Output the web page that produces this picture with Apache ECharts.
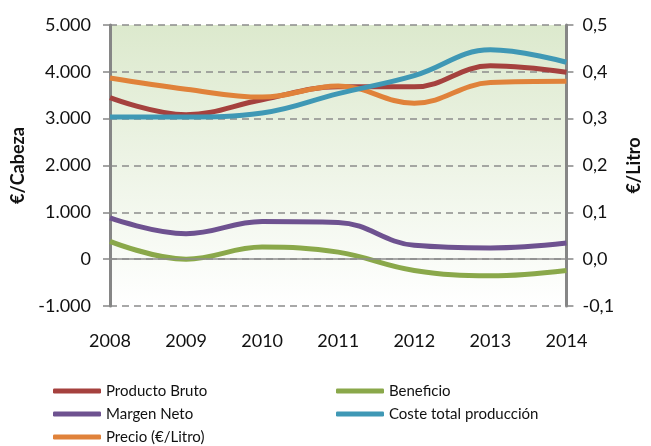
<!DOCTYPE html>
<html><head><meta charset="utf-8">
<script src="https://cdn.jsdelivr.net/npm/echarts@6/dist/echarts.min.js"></script>
<style>html,body{margin:0;padding:0;background:#fff}#c{width:651px;height:446px}</style>
</head><body><div id="c"></div>
<script>
const years = ['2008','2009','2010','2011','2012','2013','2014'];
const productoBruto = [3450, 3085, 3405, 3680, 3680, 4130, 3990];
const margenNeto = [880, 545, 805, 785, 295, 240, 345];
const beneficio = [380, 0, 258, 150, -240, -355, -240];
const costeTotal = [3036, 3036, 3120, 3534, 3920, 4470, 4204];
const precio = [0.387, 0.363, 0.346, 0.370, 0.333, 0.377, 0.380];

const FONT = 'Lato';
const chart = echarts.init(document.getElementById('c'));
const mk = (name, data, color, yi) => ({
  name, type: 'line', data, smooth: 0.4, yAxisIndex: yi, symbol: 'none',
  lineStyle: {color, width: 5}, itemStyle: {color}
});
const bene = mk('Beneficio', beneficio, '#8aa84a', 0);
bene.markLine = {silent: true, symbol: 'none', label: {show: false},
  lineStyle: {color: '#8c8c8c', width: 1.5, type: 'solid'}, data: [{yAxis: 0}]};
const lg = (name, left, top) => ({data: [name], left, top, padding: 0, itemWidth: 48, itemHeight: 5,
  icon: 'roundRect', textStyle: {fontFamily: FONT, fontSize: 15, color: '#111', lineHeight: 18}});
chart.setOption({
  animation: false,
  grid: {left: 110, right: 78, top: 25, bottom: 140, show: true, borderWidth: 0,
    backgroundColor: {type: 'linear', x: 0, y: 0, x2: 0, y2: 1,
      colorStops: [{offset: 0, color: '#dce9cd'}, {offset: 1, color: '#ffffff'}]}},
  legend: [
    lg('Producto Bruto', 53, 382),
    lg('Margen Neto', 53, 405),
    lg('Precio (€/Litro)', 53, 428),
    lg('Beneficio', 336, 382),
    lg('Coste total producción', 336, 405)
  ],
  xAxis: {type: 'category', data: years, boundaryGap: false,
    axisLine: {show: false}, axisTick: {show: false},
    axisLabel: {fontFamily: FONT, fontSize: 18, color: '#111', margin: 26}},
  yAxis: [
    {type: 'value', min: -1000, max: 5000, interval: 1000,
      name: '€/Cabeza', nameLocation: 'middle', nameGap: 83,
      nameTextStyle: {fontFamily: FONT, fontSize: 18, fontWeight: 'bold', color: '#111'},
      axisLine: {show: true, lineStyle: {color: '#868686', width: 3}},
      axisTick: {show: true, length: 7, lineStyle: {color: '#868686', width: 1.5}},
      axisLabel: {fontFamily: FONT, fontSize: 18, color: '#111', margin: 19,
        formatter: v => (v < 0 ? '-' : '') + (Math.abs(v) >= 1000 ? (Math.abs(v)/1000) + '.000' : Math.abs(v))},
      splitLine: {show: true, lineStyle: {color: '#8c8c8c', width: 1.5, type: [7, 5]}}},
    {type: 'value', min: -0.1, max: 0.5, interval: 0.1, position: 'right',
      name: '€/Litro', nameLocation: 'middle', nameGap: 50, nameRotate: 90,
      nameTextStyle: {fontFamily: FONT, fontSize: 18, fontWeight: 'bold', color: '#111'},
      axisLine: {show: true, lineStyle: {color: '#868686', width: 3}},
      axisTick: {show: true, length: 7, lineStyle: {color: '#868686', width: 1.5}},
      axisLabel: {fontFamily: FONT, fontSize: 18, color: '#111', margin: 16,
        formatter: v => v.toFixed(1).replace('.', ',')},
      splitLine: {show: false}}
  ],
  series: [
    bene,
    mk('Margen Neto', margenNeto, '#6e5290', 0),
    mk('Producto Bruto', productoBruto, '#a5413e', 0),
    mk('Precio (€/Litro)', precio, '#e0823a', 1),
    mk('Coste total producción', costeTotal, '#3f98b5', 0)
  ]
});
</script></body></html>
